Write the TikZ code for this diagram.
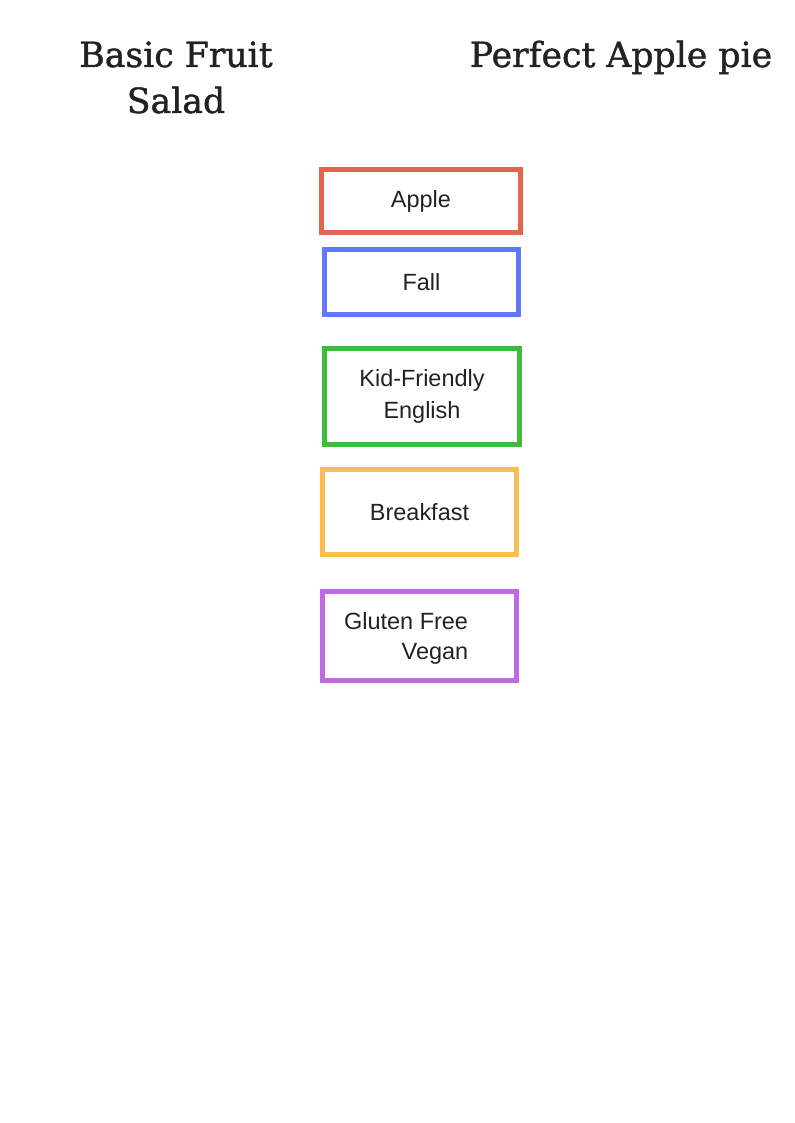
\documentclass[tikz,border=0pt]{standalone}
\usepackage{fontspec}
\setmainfont{Liberation Sans}
\newfontfamily\titlefont[RawFeature={embolden=1.2}]{DejaVu Serif}
\usetikzlibrary{positioning}
\definecolor{tagred}{HTML}{E2654F}
\definecolor{tagblue}{HTML}{6079FA}
\definecolor{taggreen}{HTML}{3EBB3A}
\definecolor{tagorange}{HTML}{FBBD52}
\definecolor{tagpurple}{HTML}{BE6BE3}
\definecolor{inkdark}{HTML}{222222}
\tikzset{
  tagbox/.style={draw=#1, line width=3.75pt, inner sep=0pt, text=inkdark,
    font=\fontsize{17.6}{24}\selectfont, align=center},
  titletext/.style={text=inkdark, inner sep=0pt, anchor=base,
    font=\titlefont\fontsize{26}{34.5}\selectfont, align=center}
}
\begin{document}
\begin{tikzpicture}[x=0.75pt, y=-0.75pt]
  \useasboundingbox (0,0) rectangle (794,1123);
  % titles
  \node[titletext] (fruitsalad) at (176,113) {Basic Fruit\\Salad};
  \node[titletext] (applepie) at (621,67) {Perfect Apple pie};
  % tag boxes
  \node[tagbox=tagred, minimum width=149pt, minimum height=47pt] (apple) at (421,201) {Apple};
  \node[tagbox=tagblue, minimum width=145.5pt, minimum height=49pt] (fall) at (421.5,282) {Fall};
  \node[tagbox=taggreen, minimum width=146pt, minimum height=72pt] (kidfriendly) at (422,396.5) {Kid-Friendly\\English};
  \node[tagbox=tagorange, minimum width=145.5pt, minimum height=64pt] (breakfast) at (419.5,512) {Breakfast};
  \node[tagbox=tagpurple, minimum width=145.5pt, minimum height=67pt] (glutenfree) at (419.5,636) {};
  \node[text=inkdark, inner sep=0pt, align=left, font=\fontsize{17.6}{22.5}\selectfont]
    (glutenlabel) at ([xshift=-10pt, yshift=-1.5pt]glutenfree.center) {Gluten Free\\\hspace*{2.45em}Vegan};
\end{tikzpicture}
\end{document}
